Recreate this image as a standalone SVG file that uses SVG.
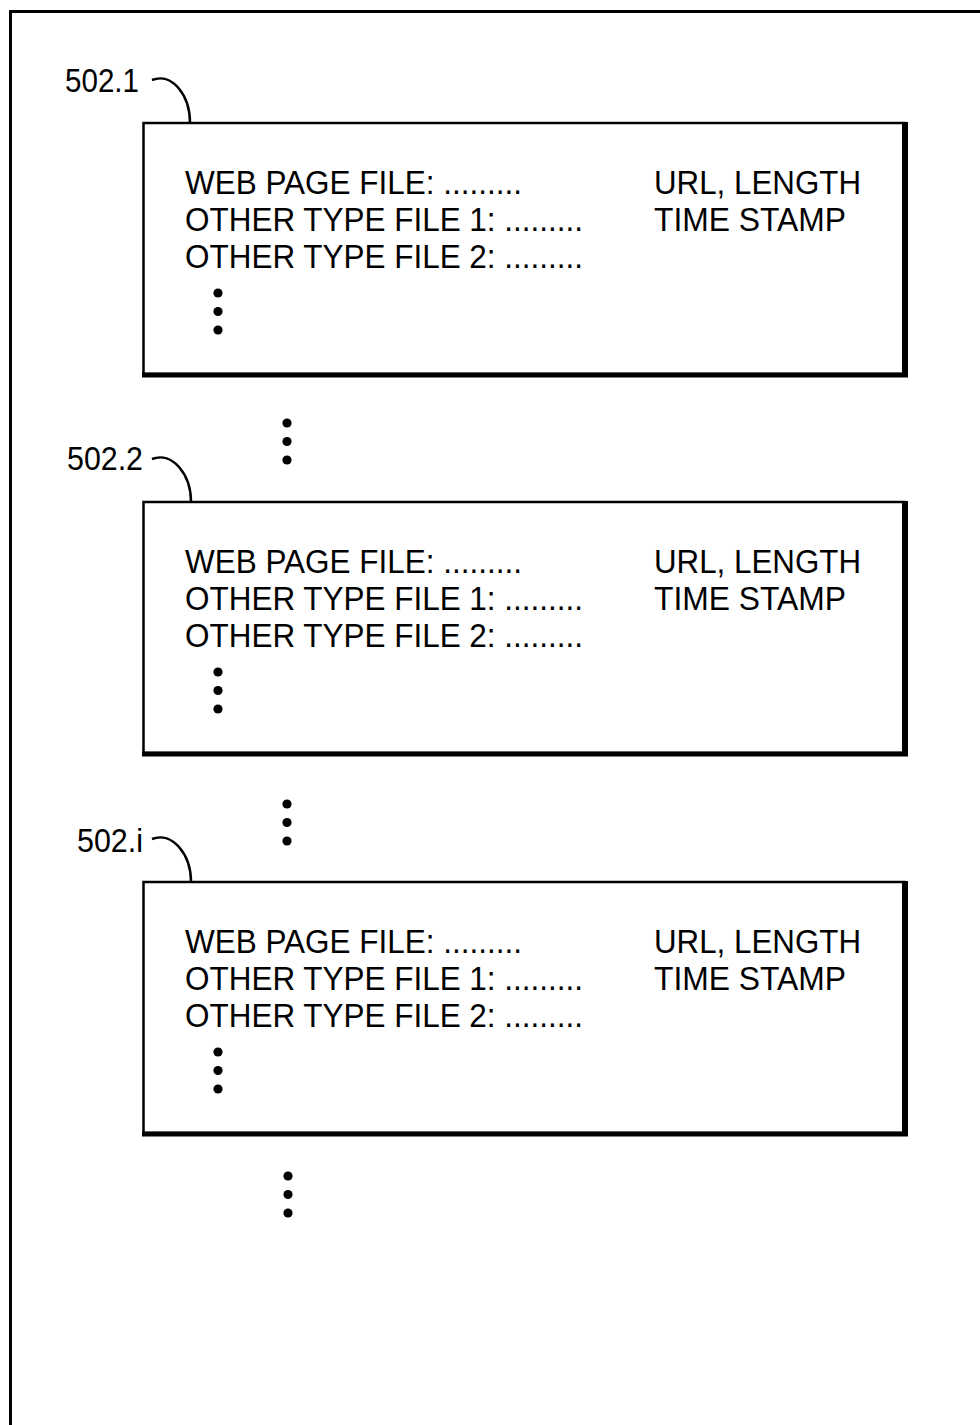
<svg xmlns="http://www.w3.org/2000/svg" width="980" height="1425" viewBox="0 0 980 1425">
<defs>
<style>
.t{font-family:"Liberation Sans",Arial,Helvetica,sans-serif;font-size:33px;fill:#000}
.box{fill:#fff;stroke:#000;stroke-width:2.5}
.sh{stroke:#000;fill:none}
.lead{fill:none;stroke:#000;stroke-width:2.5}
.frame{fill:none;stroke:#000;stroke-width:3}
</style>
<g id="dots3">
<circle cx="0" cy="0" r="4.6" fill="#000"/>
<circle cx="0" cy="18.5" r="4.6" fill="#000"/>
<circle cx="0" cy="37" r="4.6" fill="#000"/>
</g>
<g id="rec">
<rect class="box" x="143.5" y="0" width="761" height="251"/>
<line class="sh" x1="905" y1="-1" x2="905" y2="254" stroke-width="6"/>
<line class="sh" x1="142" y1="252" x2="908" y2="252" stroke-width="5"/>
<text class="t" x="185" y="71" textLength="337" lengthAdjust="spacingAndGlyphs">WEB PAGE FILE: .........</text>
<text class="t" x="185" y="108" textLength="398" lengthAdjust="spacingAndGlyphs">OTHER TYPE FILE 1: .........</text>
<text class="t" x="185" y="145" textLength="398" lengthAdjust="spacingAndGlyphs">OTHER TYPE FILE 2: .........</text>
<text class="t" x="654" y="71" textLength="207" lengthAdjust="spacingAndGlyphs">URL, LENGTH</text>
<text class="t" x="654" y="108" textLength="192" lengthAdjust="spacingAndGlyphs">TIME STAMP</text>
<use href="#dots3" x="218" y="170"/>
</g>
</defs>

<path class="frame" d="M10.5,1425 V11.5 H980"/>

<g id="record-502-1">
<use href="#rec" x="0" y="123"/>
<text class="t" x="65" y="92" textLength="74" lengthAdjust="spacingAndGlyphs">502.1</text>
</g>
<g id="record-502-2">
<use href="#rec" x="0" y="502"/>
<text class="t" x="67" y="470" textLength="76" lengthAdjust="spacingAndGlyphs">502.2</text>
</g>
<g id="record-502-i">
<use href="#rec" x="0" y="882"/>
<text class="t" x="77" y="852" textLength="66" lengthAdjust="spacingAndGlyphs">502.i</text>
</g>

<g id="ellipses">
<use href="#dots3" x="287" y="423"/>
<use href="#dots3" x="287" y="804"/>
<use href="#dots3" x="288" y="1176"/>
</g>

<g id="connectors">
<path class="lead" d="M152,80 C172,72 190,95 190,123"/>
<path class="lead" d="M152,459 C172,451 191,474 191,502"/>
<path class="lead" d="M152,839 C172,831 191,854 191,882"/>
</g>
</svg>
